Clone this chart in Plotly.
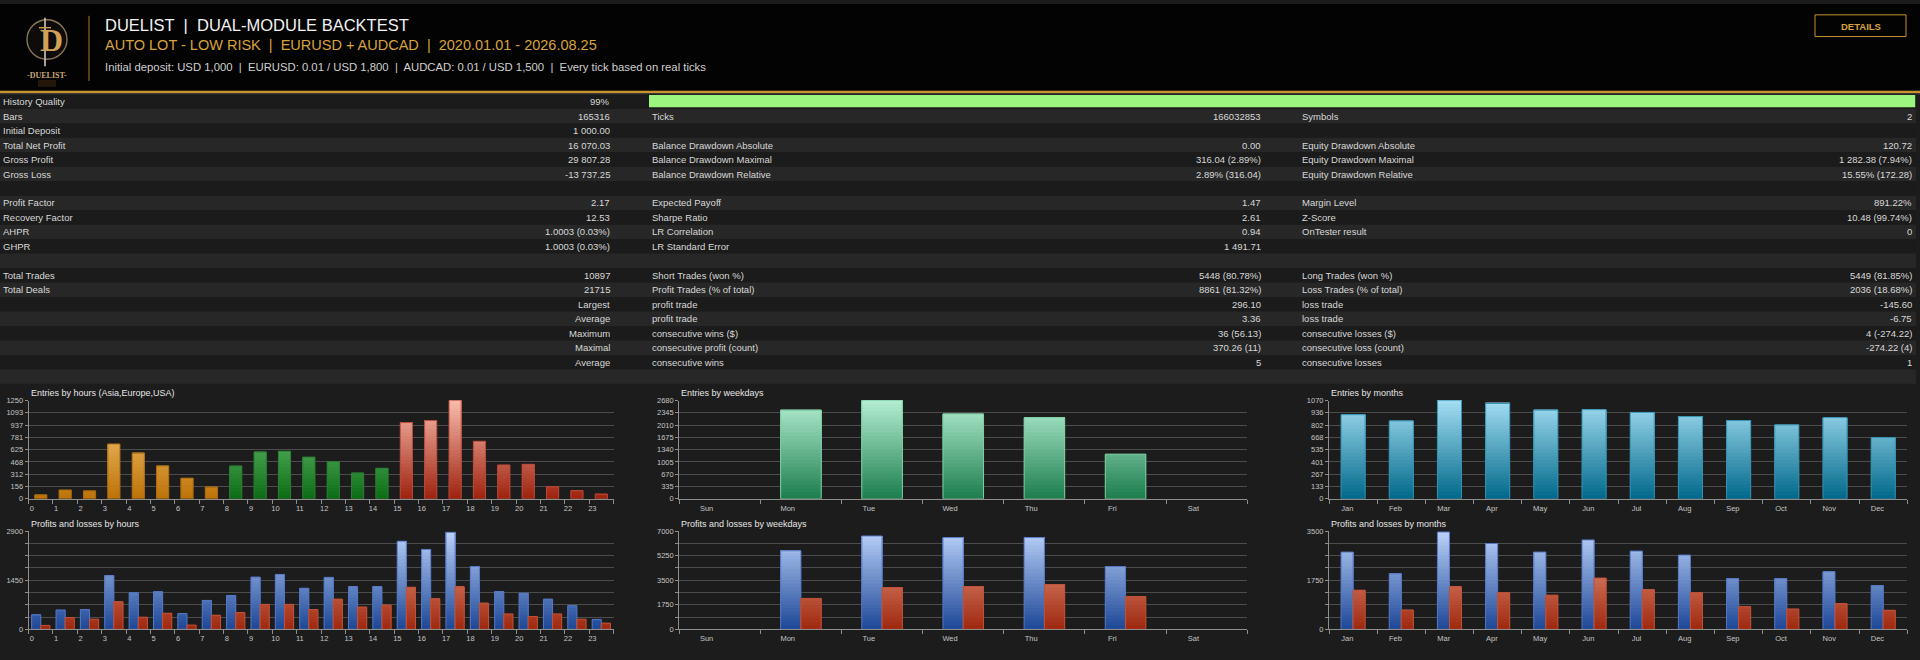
import numpy as np
import plotly.graph_objects as go

# ---------------- header texts ----------------
TITLE = "DUELIST  |  DUAL-MODULE BACKTEST"
SUBTITLE = "AUTO LOT - LOW RISK  |  EURUSD + AUDCAD  |  2020.01.01 - 2026.08.25"
INFO = "Initial deposit: USD 1,000  |  EURUSD: 0.01 / USD 1,800  |  AUDCAD: 0.01 / USD 1,500  |  Every tick based on real ticks"
BUTTON = "DETAILS"
LOGO_TEXT = "-DUELIST-"

# ---------------- table data ----------------
HISTORY_QUALITY_PCT = 99
LEFT_LABELS = ["History Quality", "Bars", "Initial Deposit", "Total Net Profit", "Gross Profit", "Gross Loss", "",
               "Profit Factor", "Recovery Factor", "AHPR", "GHPR", "",
               "Total Trades", "Total Deals", "", "", "", "", "", ""]
LEFT_VALUES = ["99%", "165316", "1 000.00", "16 070.03", "29 807.28", "-13 737.25", "",
               "2.17", "12.53", "1.0003 (0.03%)", "1.0003 (0.03%)", "",
               "10897", "21715", "Largest", "Average", "Maximum", "Maximal", "Average", ""]
MID_LABELS = ["", "Ticks", "", "Balance Drawdown Absolute", "Balance Drawdown Maximal", "Balance Drawdown Relative", "",
              "Expected Payoff", "Sharpe Ratio", "LR Correlation", "LR Standard Error", "",
              "Short Trades (won %)", "Profit Trades (% of total)", "profit trade", "profit trade",
              "consecutive wins ($)", "consecutive profit (count)", "consecutive wins", ""]
MID_VALUES = ["", "166032853", "", "0.00", "316.04 (2.89%)", "2.89% (316.04)", "",
              "1.47", "2.61", "0.94", "1 491.71", "",
              "5448 (80.78%)", "8861 (81.32%)", "296.10", "3.36", "36 (56.13)", "370.26 (11)", "5", ""]
RIGHT_LABELS = ["", "Symbols", "", "Equity Drawdown Absolute", "Equity Drawdown Maximal", "Equity Drawdown Relative", "",
                "Margin Level", "Z-Score", "OnTester result", "", "",
                "Long Trades (won %)", "Loss Trades (% of total)", "loss trade", "loss trade",
                "consecutive losses ($)", "consecutive loss (count)", "consecutive losses", ""]
RIGHT_VALUES = ["", "2", "", "120.72", "1 282.38 (7.94%)", "15.55% (172.28)", "",
                "891.22%", "10.48 (99.74%)", "0", "", "",
                "5449 (81.85%)", "2036 (18.68%)", "-145.60", "-6.75", "4 (-274.22)", "-274.22 (4)", "1", ""]

# ---------------- chart data ----------------
HOURS = ["0", "1", "2", "3", "4", "5", "6", "7", "8", "9", "10", "11",
         "12", "13", "14", "15", "16", "17", "18", "19", "20", "21", "22", "23"]
HOUR_SESSION = ["Asia"] * 8 + ["Europe"] * 7 + ["USA"] * 9
ENTRIES_BY_HOUR = [50, 113, 100, 698, 581, 418, 263, 146, 414, 594, 606, 531,
                   472, 326, 389, 970, 995, 1250, 732, 431, 439, 155, 105, 59]
HOUR_PROFITS = [427, 572, 582, 1581, 1077, 1106, 466, 853, 999, 1542, 1620, 1212,
                1532, 1251, 1261, 2599, 2357, 2861, 1853, 1115, 1067, 892, 698, 291]
HOUR_LOSSES = [116, 349, 300, 815, 359, 475, 126, 417, 495, 737, 737, 582,
               892, 660, 718, 1242, 902, 1251, 776, 456, 378, 456, 300, 184]

WEEKDAYS = ["Sun", "Mon", "Tue", "Wed", "Thu", "Fri", "Sat"]
ENTRIES_BY_WEEKDAY = [0, 2411, 2680, 2313, 2214, 1219, 0]
WEEKDAY_PROFITS = [0, 5595, 6649, 6532, 6532, 4472, 0]
WEEKDAY_LOSSES = [0, 2201, 2973, 3043, 3184, 2341, 0]

MONTHS = ["Jan", "Feb", "Mar", "Apr", "May", "Jun", "Jul", "Aug", "Sep", "Oct", "Nov", "Dec"]
ENTRIES_BY_MONTH = [916, 848, 1070, 1038, 966, 970, 941, 895, 852, 805, 884, 666]
MONTH_PROFITS = [2751, 1978, 3465, 3055, 2751, 3184, 2786, 2645, 1803, 1803, 2048, 1557]
MONTH_LOSSES = [1393, 691, 1510, 1299, 1217, 1826, 1405, 1299, 808, 726, 913, 679]

HOUR_ENTRY_TICKS = ["0", "156", "312", "468", "625", "781", "937", "1093", "1250"]
WEEKDAY_ENTRY_TICKS = ["0", "335", "670", "1005", "1340", "1675", "2010", "2345", "2680"]
MONTH_ENTRY_TICKS = ["0", "133", "267", "401", "535", "668", "802", "936", "1070"]
HOUR_PL_TICKS = ["0", "", "", "", "1450", "", "", "", "2900"]
WEEKDAY_PL_TICKS = ["0", "", "1750", "", "3500", "", "5250", "", "7000"]
MONTH_PL_TICKS = ["0", "", "", "", "1750", "", "", "", "3500"]

# ---------------- styling ----------------
W, H = 1920, 660
FONT = "Liberation Sans, Arial, Helvetica, sans-serif"
SERIF = "Liberation Serif, DejaVu Serif, serif"
TEXT = "#d8d8d8"
GOLD = "#d9a23c"
GRID = "#4c4c4c"
AXIS = "#8e8e8e"

# gradient (bottom colour, top colour, outline colour)
GRAD = {
    "Asia": ("#bd7207", "#fbd283", "#a86a14"),
    "Europe": ("#0c6c15", "#7fd487", "#2b7d33"),
    "USA": ("#9e220e", "#f9bcae", "#b84a38"),
    "weekday": ("#1c7d4d", "#b4eed2", "#7fcfa2"),
    "month": ("#00688a", "#a4def2", "#3592b2"),
    "profit": ("#1c4696", "#bcd3fa", "#5577c4"),
    "loss": ("#9e280e", "#f2ab94", "#c0523a"),
}


def px(x):
    return x / W


def py(y):
    return 1 - y / H


def rgb(h):
    return tuple(int(h[i:i + 2], 16) for i in (1, 3, 5))


def mix(c0, c1, t):
    a, b = rgb(c0), rgb(c1)
    return "rgb(%d,%d,%d)" % tuple(round(a[i] + (b[i] - a[i]) * t) for i in range(3))


fig = go.Figure()
shapes = []
annotations = []


def text(x, y, s, size=9.5, color=TEXT, xanchor="left", family=FONT, yanchor="middle", weight="normal"):
    annotations.append(dict(x=px(x), y=py(y), xref="paper", yref="paper", text=s, showarrow=False,
                            xanchor=xanchor, yanchor=yanchor,
                            font=dict(family=family, size=size, color=color, weight=weight)))


def rect(x0, y0, x1, y1, fill, line=None, lw=0, layer="below"):
    shapes.append(dict(type="rect", xref="paper", yref="paper", x0=px(x0), x1=px(x1), y0=py(y1), y1=py(y0),
                       fillcolor=fill, line=dict(color=line or fill, width=lw), layer=layer))


def line(x0, y0, x1, y1, color, width=1):
    shapes.append(dict(type="line", xref="paper", yref="paper", x0=px(x0), x1=px(x1), y0=py(y0), y1=py(y1),
                       line=dict(color=color, width=width)))


# ---------------- header ----------------
rect(0, 0, W, 88, "#030303")
rect(0, 88, W, 90.5, "#c8922e")
rect(0, 90.5, W, 91.7, "#3a3a3a")
# logo
shapes.append(dict(type="circle", xref="paper", yref="paper", x0=px(27), x1=px(67), y0=py(56), y1=py(16),
                   fillcolor="#0d0c0b", line=dict(color="#8a7656", width=1.4), layer="below"))
text(51, 37, "D", size=32, color="#d2a158", xanchor="center", family=SERIF, weight="bold")
line(45, 14, 45, 63, "#cfc8bc", 1.6)
line(39, 24, 51, 24, "#d0a050", 1.4)
text(47, 72, LOGO_TEXT, size=8, color="#c9a77a", xanchor="center", family=SERIF, weight="bold")
rect(38, 77, 56, 84, "rgba(190,110,40,0.18)")
line(89, 12, 89, 78, "#a67a2e", 1)
text(103, 21, TITLE, size=16.5, color="#f2f2f2")
text(103, 42, SUBTITLE, size=14.5, color=GOLD)
text(103, 63.5, INFO, size=11.3, color="#cfcfcf")
# details button
rect(1815, 11, 1906, 33, "rgba(0,0,0,0)", line="#c8922e", lw=1, layer="above")
text(1860.5, 22.5, BUTTON, size=9.5, color=GOLD, xanchor="center", weight="bold")

# ---------------- table ----------------
ROW_TOP, ROW_H = 91.7, 14.67
for k in range(len(LEFT_LABELS)):
    y0 = ROW_TOP + k * ROW_H
    rect(0, y0, 1916, y0 + ROW_H, "#1b1b1b" if k % 2 == 0 else "#272727")
    yc = y0 + ROW_H / 2
    if LEFT_LABELS[k]:
        text(1, yc, LEFT_LABELS[k])
    if LEFT_VALUES[k]:
        text(612, yc, LEFT_VALUES[k], xanchor="right")
    if MID_LABELS[k]:
        text(650, yc, MID_LABELS[k])
    if MID_VALUES[k]:
        text(1263, yc, MID_VALUES[k], xanchor="right")
    if RIGHT_LABELS[k]:
        text(1300, yc, RIGHT_LABELS[k])
    if RIGHT_VALUES[k]:
        text(1914, yc, RIGHT_VALUES[k], xanchor="right")
# history quality bar
hq_x0, hq_x1 = 649, 1928
rect(hq_x0, 92.3, hq_x0 + (hq_x1 - hq_x0) * HISTORY_QUALITY_PCT / 100, 104.8, "#9cf57e", layer="above")

# ---------------- charts ----------------
K = 28
charts = [
    dict(title="Entries by hours (Asia,Europe,USA)", x0=28.6, x1=613.5, top=402, bot=501.7, cats=HOURS,
         series=[(ENTRIES_BY_HOUR, HOUR_SESSION)], ticks=HOUR_ENTRY_TICKS, bw=0.5, f=0.13),
    dict(title="Entries by weekdays", x0=679.2, x1=1247.3, top=402, bot=501.7, cats=WEEKDAYS,
         series=[(ENTRIES_BY_WEEKDAY, ["weekday"] * len(WEEKDAYS))], ticks=WEEKDAY_ENTRY_TICKS, bw=0.5, f=0.337),
    dict(title="Entries by months", x0=1329.0, x1=1907.3, top=402, bot=501.7, cats=MONTHS,
         series=[(ENTRIES_BY_MONTH, ["month"] * len(MONTHS))], ticks=MONTH_ENTRY_TICKS, bw=0.5, f=0.38),
    dict(title="Profits and losses by hours", x0=28.6, x1=613.5, top=534.3, bot=634, cats=HOURS,
         series=[(HOUR_PROFITS, ["profit"] * 24), (HOUR_LOSSES, ["loss"] * 24)], ticks=HOUR_PL_TICKS, bw=0.375, f=0.13),
    dict(title="Profits and losses by weekdays", x0=679.2, x1=1247.3, top=534.3, bot=634, cats=WEEKDAYS,
         series=[(WEEKDAY_PROFITS, ["profit"] * 7), (WEEKDAY_LOSSES, ["loss"] * 7)], ticks=WEEKDAY_PL_TICKS, bw=0.25, f=0.337),
    dict(title="Profits and losses by months", x0=1329.0, x1=1907.3, top=534.3, bot=634, cats=MONTHS,
         series=[(MONTH_PROFITS, ["profit"] * 12), (MONTH_LOSSES, ["loss"] * 12)], ticks=MONTH_PL_TICKS, bw=0.25, f=0.38),
]

layout_axes = {}
for i, ch in enumerate(charts, start=1):
    xa = "x" if i == 1 else "x%d" % i
    ya = "y" if i == 1 else "y%d" % i
    n = len(ch["cats"])
    ymax = float(ch["ticks"][-1])
    centers = np.arange(n) + 0.5
    ns = len(ch["series"])
    bw = ch["bw"]
    for s, (vals, groups) in enumerate(ch["series"]):
        vals = np.asarray(vals, dtype=float)
        offset = -bw / 2 if ns == 1 else (-bw if s == 0 else 0.0)
        step = ymax / K
        for k in range(K):
            base = k * step
            h = np.clip(vals - base, 0, None)
            t = (k + 0.5) / K
            cols = [mix(GRAD[g][0], GRAD[g][1], t) for g in groups]
            fig.add_trace(go.Bar(x=centers, y=h, base=[base] * n, width=bw, offset=offset,
                                 marker=dict(color=cols, line=dict(width=0)),
                                 xaxis=xa, yaxis=ya, showlegend=False, hoverinfo="skip"))
        fig.add_trace(go.Bar(x=centers, y=vals, base=[0] * n, width=bw, offset=offset,
                             marker=dict(color="rgba(0,0,0,0)",
                                         line=dict(width=[1 if v > 0 else 0 for v in vals],
                                                   color=[GRAD[g][2] for g in groups])),
                             xaxis=xa, yaxis=ya, showlegend=False, hoverinfo="skip"))
    tickfont = dict(family=FONT, size=7.5, color="#c4c4c4")
    layout_axes["xaxis" if i == 1 else "xaxis%d" % i] = dict(
        domain=[px(ch["x0"]), px(ch["x1"])], range=[0, n], anchor=ya, fixedrange=True,
        tickmode="array", tickvals=list(np.arange(n) + ch["f"]), ticktext=ch["cats"], ticks="",
        ticklabelstandoff=2,
        showgrid=False, zeroline=False, showline=True, linecolor=AXIS, linewidth=1, tickfont=tickfont,
        minor=dict(tickmode="array", tickvals=list(range(n + 1)), ticks="outside", ticklen=4,
                   tickcolor=AXIS, tickwidth=1, showgrid=False))
    layout_axes["yaxis" if i == 1 else "yaxis%d" % i] = dict(
        domain=[py(ch["bot"]), py(ch["top"])], range=[0, ymax], anchor=xa, fixedrange=True,
        tickmode="array", tickvals=list(np.linspace(0, ymax, 9)), ticktext=ch["ticks"],
        ticks="outside", ticklen=3, tickcolor=AXIS, showgrid=True, gridcolor=GRID, gridwidth=1,
        zeroline=False, showline=True, linecolor=AXIS, linewidth=1, tickfont=tickfont)
    text(ch["x0"], ch["top"] - 7.5, ch["title"], size=9, color="#e6e6e6")

fig.update_layout(
    width=W, height=H, margin=dict(l=0, r=0, t=0, b=0),
    paper_bgcolor="#1c1c1c", plot_bgcolor="rgba(0,0,0,0)",
    barmode="overlay", showlegend=False, hovermode=False,
    shapes=shapes, annotations=annotations, **layout_axes)

fig.write_html("out.html", config={"displayModeBar": False},
               post_script="document.body.style.margin='0';document.body.style.overflow='hidden';")
